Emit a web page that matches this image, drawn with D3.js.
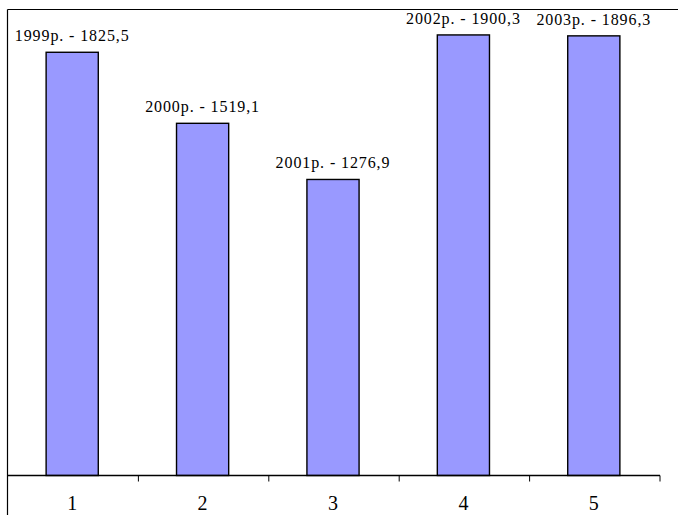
<!DOCTYPE html>
<html><head><meta charset="utf-8">
<script src="https://cdn.jsdelivr.net/npm/d3@7"></script>
<style>body{margin:0;background:#fff}svg{display:block}</style>
</head><body>
<svg id="c" width="678" height="515"></svg>
<script>
const categories = ["1","2","3","4","5"];
const years = ["1999","2000","2001","2002","2003"];
const values = [1825.5, 1519.1, 1276.9, 1900.3, 1896.3];
const valueLabels = ["1825,5","1519,1","1276,9","1900,3","1896,3"];

(function () {
const svg = d3.select("#c");
const pL = 7.5, pR = 660, pT = 9.5, base = 475.5;
const x = d3.scaleBand().domain(categories).range([8, 660]).padding(0);
const y = d3.scaleLinear().domain([0, 2010]).range([base, pT]);

// frame lines
svg.append("line").attr("x1", pL).attr("x2", 678).attr("y1", pT).attr("y2", pT)
  .attr("stroke", "#000").attr("stroke-width", 1.2);
svg.append("line").attr("x1", pL).attr("x2", pL).attr("y1", pT).attr("y2", 515)
  .attr("stroke", "#000").attr("stroke-width", 1.2);

const bw = x.bandwidth() * 0.4;
svg.selectAll("rect.bar").data(values).enter().append("rect")
  .attr("class", "bar")
  .attr("x", (d, i) => x(categories[i]) + x.bandwidth() / 2 - bw / 2 - 1)
  .attr("y", d => y(d))
  .attr("width", bw)
  .attr("height", d => base - y(d))
  .attr("fill", "#9999FF").attr("stroke", "#000").attr("stroke-width", 1.4);

svg.selectAll("text.lbl").data(values).enter().append("text")
  .attr("class", "lbl")
  .attr("x", (d, i) => x(categories[i]) + x.bandwidth() / 2 - 1)
  .attr("y", d => y(d) - 11)
  .attr("text-anchor", "middle")
  .attr("font-family", "Liberation Serif, serif")
  .attr("font-size", 16)
  .attr("letter-spacing", 0.9)
  .text((d, i) => years[i] + "р. - " + valueLabels[i]);

// x axis
const ax = svg.append("g").attr("transform", `translate(0,${base})`);
ax.append("line").attr("x1", pL).attr("x2", pR).attr("y1", 0).attr("y2", 0)
  .attr("stroke", "#000").attr("stroke-width", 1.4);
categories.forEach(c => {
  const xe = x(c) + x.bandwidth();
  ax.append("line").attr("x1", xe).attr("x2", xe).attr("y1", 0).attr("y2", 6)
    .attr("stroke", "#000").attr("stroke-width", 1);
});
ax.selectAll("text").data(categories).enter().append("text")
  .attr("x", c => x(c) + x.bandwidth() / 2 - 1)
  .attr("y", 34)
  .attr("text-anchor", "middle")
  .attr("font-family", "Liberation Serif, serif")
  .attr("font-size", 20)
  .text(c => c);
})();
</script>
</body></html>
